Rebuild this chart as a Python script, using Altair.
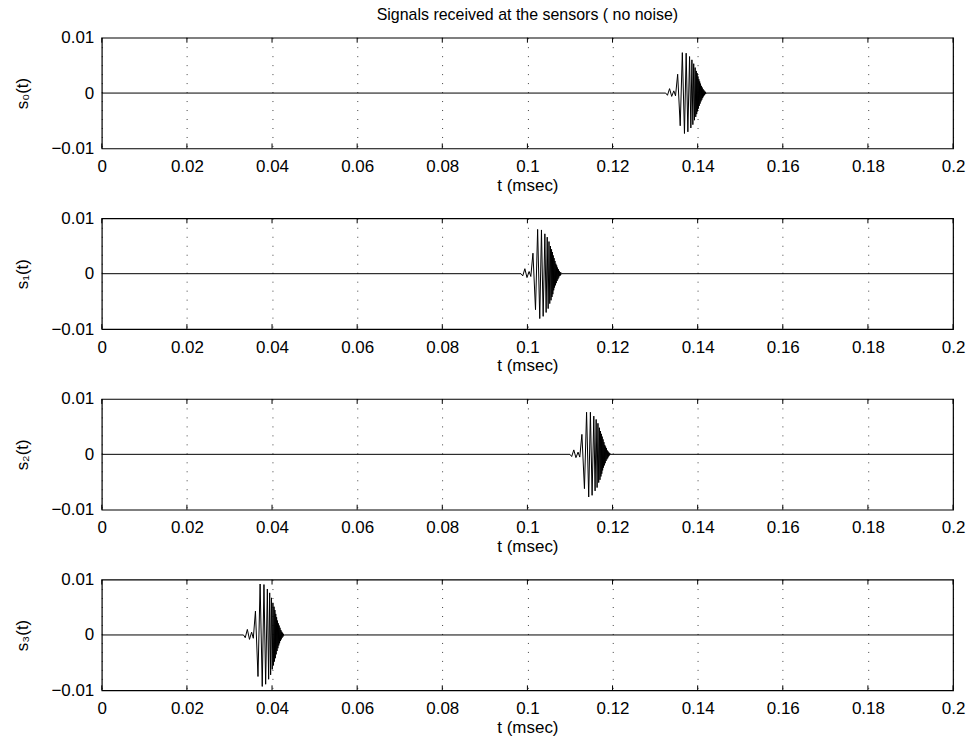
import altair as alt
import pandas as pd

# ---- data (t in msec, s dimensionless) ----
T0 = [0.1325, 0.1329, 0.1334, 0.1339, 0.1344, 0.1348, 0.1353, 0.1359, 0.1364, 0.1369,
      0.1373, 0.1377, 0.1381, 0.1384, 0.13865, 0.13887, 0.13907, 0.13925, 0.13941, 0.13955,
      0.13967, 0.13977, 0.13987, 0.13997, 0.14007, 0.14017, 0.14027, 0.14037, 0.14047,
      0.14057, 0.14067, 0.14077, 0.14087, 0.14097, 0.14107, 0.14117, 0.14127, 0.14137,
      0.14147, 0.14157, 0.14167, 0.14177, 0.14187, 0.14197, 0.14207]
S0 = [0.0, -0.0004, 0.0008, -0.0006, 0.0004, -0.0005, 0.0034, -0.0059, 0.0073, -0.0073,
      0.0072, -0.0070, 0.0066, -0.0063, 0.0060, -0.0057, 0.0053, -0.0049, 0.0046, -0.0043,
      0.0040, -0.0038, 0.0036, -0.0033, 0.0030, -0.0028, 0.0025, -0.0023, 0.0021,
      -0.0019, 0.0017, -0.0015, 0.0013, -0.0012, 0.0010, -0.0009, 0.0007, -0.0006,
      0.0005, -0.0004, 0.0003, -0.0002, 0.0002, -0.0001, 0.0]

T1 = [0.0985, 0.0989, 0.0994, 0.0999, 0.1004, 0.1008, 0.1013, 0.1019, 0.1024, 0.1029,
      0.1033, 0.1037, 0.1041, 0.1044, 0.10465, 0.10487, 0.10507, 0.10525, 0.10541, 0.10555,
      0.10567, 0.10577, 0.10587, 0.10597, 0.10607, 0.10617, 0.10627, 0.10637, 0.10647,
      0.10657, 0.10667, 0.10677, 0.10687, 0.10697, 0.10707, 0.10717, 0.10727, 0.10737,
      0.10747, 0.10757, 0.10767, 0.10777, 0.10787, 0.10797, 0.10807]
S1 = [0.0, -0.0004, 0.0009, -0.0007, 0.0004, -0.0005, 0.0037, -0.0065, 0.0080, -0.0081,
      0.0079, -0.0077, 0.0072, -0.0070, 0.0066, -0.0063, 0.0058, -0.0054, 0.0050, -0.0048,
      0.0044, -0.0042, 0.0039, -0.0037, 0.0033, -0.0030, 0.0028, -0.0025, 0.0023,
      -0.0021, 0.0018, -0.0017, 0.0015, -0.0013, 0.0011, -0.0010, 0.0008, -0.0007,
      0.0005, -0.0004, 0.0003, -0.0003, 0.0002, -0.0001, 0.0]

T2 = [0.1100, 0.1104, 0.1109, 0.1114, 0.1119, 0.1123, 0.1128, 0.1134, 0.1139, 0.1144,
      0.1148, 0.1152, 0.1156, 0.1159, 0.11615, 0.11637, 0.11657, 0.11675, 0.11691, 0.11705,
      0.11717, 0.11727, 0.11737, 0.11747, 0.11757, 0.11767, 0.11777, 0.11787, 0.11797,
      0.11807, 0.11817, 0.11827, 0.11837, 0.11847, 0.11857, 0.11867, 0.11877, 0.11887,
      0.11897, 0.11907, 0.11917, 0.11927, 0.11937, 0.11947, 0.11957]
S2 = [0.0, -0.0004, 0.0008, -0.0006, 0.0004, -0.0005, 0.0036, -0.0062, 0.0076, -0.0077,
      0.0076, -0.0074, 0.0069, -0.0066, 0.0063, -0.0060, 0.0056, -0.0051, 0.0048, -0.0046,
      0.0042, -0.0040, 0.0037, -0.0035, 0.0032, -0.0029, 0.0027, -0.0024, 0.0022,
      -0.0020, 0.0017, -0.0016, 0.0014, -0.0012, 0.0011, -0.0009, 0.0007, -0.0007,
      0.0005, -0.0004, 0.0003, -0.0002, 0.0002, -0.0001, 0.0]

T3 = [0.0333, 0.0337, 0.0342, 0.0347, 0.0352, 0.0356, 0.0361, 0.0367, 0.0372, 0.0377,
      0.0381, 0.0385, 0.0389, 0.0392, 0.03945, 0.03967, 0.03987, 0.04005, 0.04021, 0.04035,
      0.04047, 0.04057, 0.04067, 0.04077, 0.04087, 0.04097, 0.04107, 0.04117, 0.04127,
      0.04137, 0.04147, 0.04157, 0.04167, 0.04177, 0.04187, 0.04197, 0.04207, 0.04217,
      0.04227, 0.04237, 0.04247, 0.04257, 0.04267, 0.04277, 0.04287]
S3 = [0.0, -0.0005, 0.0010, -0.0008, 0.0005, -0.0006, 0.0043, -0.0075, 0.0092, -0.0093,
      0.0091, -0.0089, 0.0083, -0.0080, 0.0076, -0.0072, 0.0067, -0.0062, 0.0058, -0.0055,
      0.0051, -0.0048, 0.0045, -0.0042, 0.0038, -0.0035, 0.0032, -0.0029, 0.0026,
      -0.0024, 0.0021, -0.0019, 0.0017, -0.0015, 0.0013, -0.0011, 0.0009, -0.0008,
      0.0006, -0.0005, 0.0004, -0.0003, 0.0002, -0.0001, 0.0]

T_RANGE = [0.0, 0.2]
X_TICKS = [0, 0.02, 0.04, 0.06, 0.08, 0.1, 0.12, 0.14, 0.16, 0.18, 0.2]
Y_TICKS = [-0.01, 0, 0.01]
Y_TITLES = ["s\u2080(t)", "s\u2081(t)", "s\u2082(t)", "s\u2083(t)"]
X_TITLE = "t (msec)"
TITLE = "Signals received at the sensors ( no noise)"

W, H = 853, 111
FONT = "Liberation Sans"


def panel(i, t, s):
    df = pd.DataFrame({"t": [T_RANGE[0]] + t + [T_RANGE[1]],
                       "s": [0.0] + s + [0.0]})
    xscale = alt.Scale(domain=T_RANGE, nice=False, zero=False)
    xenc = alt.X("t:Q", scale=xscale,
                 axis=alt.Axis(values=X_TICKS, format="~g", title=X_TITLE,
                               grid=True, gridDash=[1, 8], gridColor="#000000",
                               gridOpacity=0.75, gridWidth=1,
                               tickSize=0, domain=False, labelPadding=10,
                               titlePadding=3, labelFlush=False))
    yenc = alt.Y("s:Q", scale=alt.Scale(domain=[-0.01, 0.01], nice=False),
                 axis=alt.Axis(values=Y_TICKS, format="~g", title=Y_TITLES[i],
                               grid=False, tickSize=0, domain=False,
                               labelPadding=8, titlePadding=19))
    line = alt.Chart(df).mark_line(color="black", strokeWidth=1).encode(
        x=xenc, y=yenc)
    tdf = pd.DataFrame({"t": X_TICKS})
    bot = alt.Chart(tdf).mark_rule(color="black", strokeWidth=1).encode(
        x=alt.X("t:Q", scale=xscale), y=alt.value(H), y2=alt.value(H - 5))
    top = alt.Chart(tdf).mark_rule(color="black", strokeWidth=1).encode(
        x=alt.X("t:Q", scale=xscale), y=alt.value(0), y2=alt.value(5))
    layer = alt.layer(line, bot, top).properties(width=W, height=H)
    if i == 0:
        layer = layer.properties(title=alt.TitleParams(
            TITLE, fontSize=16, fontWeight="normal", font=FONT,
            anchor="middle", offset=6, color="black"))
    return layer


chart = alt.vconcat(
    panel(0, T0, S0), panel(1, T1, S1), panel(2, T2, S2), panel(3, T3, S3),
    spacing=70, bounds="flush",
).properties(
    padding={"left": 13, "top": 5, "right": 5, "bottom": 5},
    background="white",
).configure_axis(
    labelFont=FONT, labelFontSize=17, labelColor="black",
    titleFont=FONT, titleFontSize=17, titleFontWeight="normal", titleColor="black",
).configure_view(
    stroke="black", strokeWidth=1.2,
)

chart.save("out.html", embed_options={"renderer": "svg", "actions": False})
